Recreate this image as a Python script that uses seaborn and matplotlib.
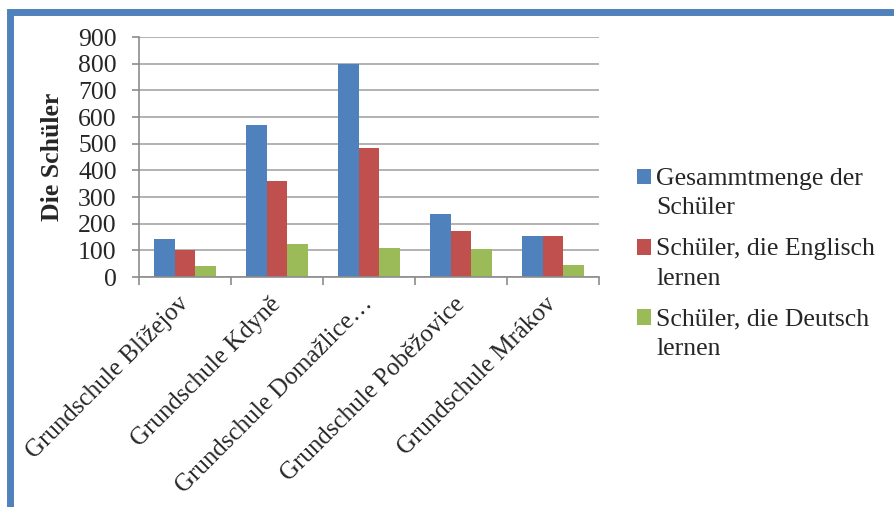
import numpy as np
import pandas as pd
import matplotlib.pyplot as plt
import seaborn as sns
from matplotlib.patches import Patch, Rectangle

# --- Daten ---
schulen = [
    "Grundschule Blížejov", "Grundschule Kdyně", "Grundschule Domažlice…",
    "Grundschule Poběžovice", "Grundschule Mrákov"
]
serien = [
    "Gesammtmenge der\nSchüler",
    "Schüler, die Englisch\nlernen",
    "Schüler, die Deutsch\nlernen",
]
gesamt = [143, 570, 800, 236, 155]
englisch = [100, 360, 485, 172, 155]
deutsch = [40, 125, 109, 105, 45]
farben = ["#4F81BD", "#C0504D", "#9BBB59"]

df = pd.DataFrame({
    "Schule": schulen * 3,
    "Serie": [serien[0]] * 5 + [serien[1]] * 5 + [serien[2]] * 5,
    "Anzahl": gesamt + englisch + deutsch,
})

sns.set_style("white")
plt.rcParams["font.family"] = ["Liberation Serif", "DejaVu Serif"]

fig = plt.figure(figsize=(8.94, 5.07), dpi=100)
ax = fig.add_axes([139 / 894, 1 - 277 / 507, 460 / 894, 240 / 507])

sns.barplot(data=df, x="Schule", y="Anzahl", hue="Serie", hue_order=serien,
            palette=farben, width=0.667, saturation=1, ax=ax, legend=False,
            edgecolor="none", linewidth=0)

ax.set_xlim(-0.5, 4.5)
ax.set_ylim(0, 900)
ax.set_yticks(range(0, 901, 100))
ax.yaxis.grid(True, color="#A6A6A6", linewidth=1.2)
ax.set_axisbelow(True)
for s in ["top", "right"]:
    ax.spines[s].set_visible(False)
for s in ["left", "bottom"]:
    ax.spines[s].set_color("#8C8C8C")
    ax.spines[s].set_linewidth(1.2)

ax.tick_params(axis="y", direction="out", length=5, width=1.2, color="#8C8C8C",
               labelsize=18.5, pad=11, left=True)
ax.set_xticks(range(5))
ax.set_xticks(np.arange(-0.5, 5, 1), minor=True)
ax.tick_params(axis="x", which="major", length=0, pad=17)
ax.tick_params(axis="x", which="minor", direction="out", length=6, width=1.2,
               color="#8C8C8C", bottom=True)
ax.set_xticklabels(schulen, rotation=45, ha="right", va="center",
                   rotation_mode="anchor", fontsize=18)

ax.set_xlabel("")
ax.set_ylabel("Die Schüler", fontsize=18.5, fontweight="bold", labelpad=10)

handles = [Patch(facecolor=c, edgecolor="none") for c in farben]
leg = fig.legend(handles, serien, loc="upper left",
                 bbox_to_anchor=(624 / 894, 1 - 155 / 507), frameon=False,
                 fontsize=18.5, handlelength=0.55, handleheight=0.55,
                 handletextpad=0.2, labelspacing=0.73, borderpad=0)
for t in leg.get_texts():
    t.set_linespacing(1.45)
for p in leg.get_patches():
    p.set_y(p.get_y() + 12)

# Rahmen des Diagramms (links und oben)
fig.patches.append(Rectangle((9.5 / 894, -0.1), 1.2, 1 - 12 / 507 + 0.1,
                             transform=fig.transFigure, fill=False,
                             edgecolor="#4F81BD", linewidth=5))

fig.savefig("out.png", dpi=100)
